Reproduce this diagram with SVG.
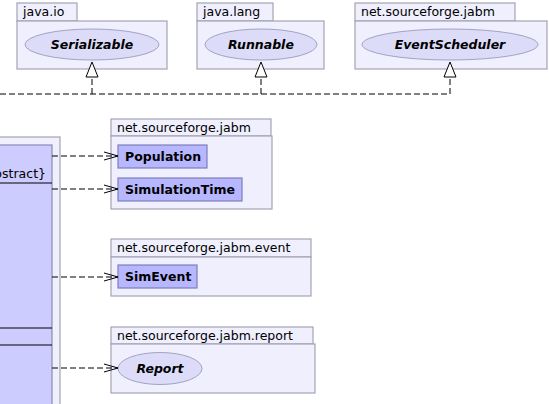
<svg xmlns="http://www.w3.org/2000/svg" width="549" height="404" viewBox="0 0 549 404">
<defs>
<style>
.pkg{fill:#EFEFFD;stroke:#A3A3B5;stroke-width:1.2}
.pl{font-family:"DejaVu Sans",sans-serif;font-size:12.5px;fill:#000}
.ell{fill:#DCDCF8;stroke:#A3A3C3;stroke-width:1}
.it{font-family:"DejaVu Sans",sans-serif;font-size:12.5px;font-weight:bold;font-style:italic;fill:#000;text-anchor:middle}
.cls{fill:#B7B7FF;stroke:#7E7EB8;stroke-width:1.2}
.cn{font-family:"DejaVu Sans",sans-serif;font-size:12.5px;font-weight:bold;fill:#000}
.big{fill:#CCCCFF;stroke:#8A8AB0;stroke-width:1.2}
.dash{fill:none;stroke:#000;stroke-width:1;stroke-dasharray:6,3}
.head{fill:none;stroke:#000;stroke-width:1}
.tri{fill:#FFF;stroke:#000;stroke-width:1}
</style>
</defs>
<g id="pkg-left">
<rect class="pkg" x="-5" y="137" width="65" height="280"/>
<rect class="big" x="-5" y="145" width="57" height="270"/>
<text class="pl" x="46" y="178" text-anchor="end">{abstract}</text>
<line x1="-5" y1="183" x2="52" y2="183" stroke="#000" stroke-width="1"/>
<line x1="-5" y1="328" x2="52" y2="328" stroke="#000" stroke-width="1"/>
<line x1="-5" y1="345" x2="52" y2="345" stroke="#000" stroke-width="1"/>
</g>
<g id="pkg-java-io">
<rect class="pkg" x="17" y="3" width="60" height="18"/>
<rect class="pkg" x="17" y="21" width="150" height="48"/>
<text class="pl" x="23" y="16">java.io</text>
<g id="Serializable">
<ellipse class="ell" cx="92" cy="44.5" rx="67" ry="15.5"/>
<text class="it" x="92" y="49">Serializable</text>
</g>
</g>
<g id="pkg-java-lang">
<rect class="pkg" x="197" y="3" width="76" height="18"/>
<rect class="pkg" x="197" y="21" width="127" height="48"/>
<text class="pl" x="203" y="16">java.lang</text>
<g id="Runnable">
<ellipse class="ell" cx="261" cy="44.5" rx="56" ry="15.5"/>
<text class="it" x="261" y="49">Runnable</text>
</g>
</g>
<g id="pkg-jabm-top">
<rect class="pkg" x="355" y="3" width="160" height="18"/>
<rect class="pkg" x="355" y="21" width="192" height="48"/>
<text class="pl" x="361" y="16">net.sourceforge.jabm</text>
<g id="EventScheduler">
<ellipse class="ell" cx="450" cy="44.5" rx="88" ry="15.5"/>
<text class="it" x="450" y="49">EventScheduler</text>
</g>
</g>
<g id="pkg-jabm">
<rect class="pkg" x="111" y="119" width="160" height="17"/>
<rect class="pkg" x="111" y="136" width="161" height="73"/>
<text class="pl" x="117" y="132">net.sourceforge.jabm</text>
<g id="Population">
<rect class="cls" x="118" y="145" width="89" height="23"/>
<text class="cn" x="125" y="161">Population</text>
</g>
<g id="SimulationTime">
<rect class="cls" x="118" y="178" width="124" height="23"/>
<text class="cn" x="125" y="194">SimulationTime</text>
</g>
</g>
<g id="pkg-jabm-event">
<rect class="pkg" x="111" y="239" width="200" height="18"/>
<rect class="pkg" x="111" y="257" width="200" height="39"/>
<text class="pl" x="117" y="252">net.sourceforge.jabm.event</text>
<g id="SimEvent">
<rect class="cls" x="118" y="265" width="79" height="23"/>
<text class="cn" x="125" y="281">SimEvent</text>
</g>
</g>
<g id="pkg-jabm-report">
<rect class="pkg" x="111" y="327" width="202" height="17"/>
<rect class="pkg" x="111" y="344" width="204" height="49"/>
<text class="pl" x="117" y="340">net.sourceforge.jabm.report</text>
<g id="Report">
<ellipse class="ell" cx="160" cy="368.5" rx="42" ry="16"/>
<text class="it" x="160" y="373">Report</text>
</g>
</g>
<g id="connectors">
<path class="dash" d="M0,94 H450 M92,94 V77 M261,94 V77 M450,94 V77"/>
<polygon class="tri" points="92,62 86,77 98,77"/>
<polygon class="tri" points="261,62 255,77 267,77"/>
<polygon class="tri" points="450,62 444,77 456,77"/>
<path class="dash" d="M52,156 H118 M52,189 H118 M52,277 H118 M52,368 H118"/>
<path class="head" d="M104,152 L118,156 L104,160 M104,185 L118,189 L104,193 M104,273 L118,277 L104,281 M104,364 L118,368 L104,372"/>
</g>
</svg>
